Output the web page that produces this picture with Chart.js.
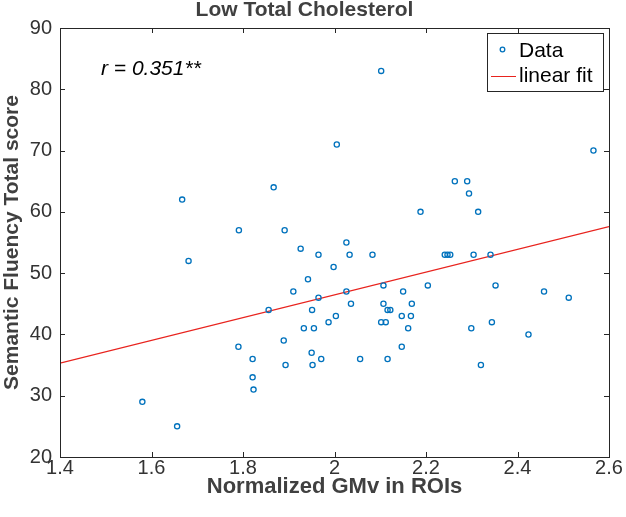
<!DOCTYPE html>
<html>
<head>
<meta charset="utf-8">
<title>Low Total Cholesterol</title>
<script src="https://cdn.jsdelivr.net/npm/chart.js@4"></script>
<style>
  html, body { margin: 0; padding: 0; background: #fff; }
</style>
</head>
<body>
<canvas id="chart" width="626" height="517"></canvas>
<script>
// values
const gmv = [1.580, 1.656, 1.667, 1.681, 1.791, 1.790, 1.821, 1.821, 1.823, 1.856,
             1.867, 1.889, 1.891, 1.893, 1.910, 1.926, 1.933, 1.942, 1.950, 1.951,
             1.952, 1.955, 1.965, 1.965, 1.971, 1.987, 1.998, 2.003, 2.005, 2.026,
             2.026, 2.033, 2.036, 2.056, 2.083, 2.102, 2.102, 2.107, 2.107, 2.112,
             2.116, 2.122, 2.116, 2.147, 2.147, 2.150, 2.161, 2.167, 2.169, 2.188,
             2.204, 2.241, 2.247, 2.253, 2.263, 2.290, 2.294, 2.299, 2.304, 2.314,
             2.320, 2.341, 2.344, 2.352, 2.424, 2.458, 2.512, 2.566];
const fluency = [29, 25, 62, 52, 57, 38, 36, 33, 31, 44,
                 64, 39, 57, 35, 47, 54, 41, 49, 37, 44,
                 35, 41, 53, 46, 36, 42, 51, 43, 71, 55,
                 47, 53, 45, 36, 53, 83, 42, 48, 45, 42,
                 44, 44, 36, 43, 38, 47, 41, 43, 45, 60,
                 48, 53, 53, 53, 65, 65, 63, 41, 53, 60,
                 35, 53, 42, 48, 40, 47, 46, 70];
const fitX = [1.4, 2.6];
const fitY = [35.3, 57.6];
const xTicks = [1.4, 1.6, 1.8, 2.0, 2.2, 2.4, 2.6];
const yTicks = [20, 30, 40, 50, 60, 70, 80, 90];
const rText = "r = 0.351**";

const FONT = "'Liberation Sans', Arial, Helvetica, sans-serif";
const BLUE = "#0072BD";
const RED = "#E8231E";

// box, inward ticks, r value and legend drawn like the matlab figure
const matlabFrame = {
    id: "matlabFrame",
    afterDraw(c) {
        const ctx = c.ctx;
        const a = c.chartArea;
        const sx = c.scales.x, sy = c.scales.y;
        ctx.save();
        ctx.strokeStyle = "#262626";
        ctx.lineWidth = 1;
        ctx.beginPath();
        sx.ticks.forEach(t => {
            const px = Math.round(sx.getPixelForValue(t.value)) + 0.5;
            ctx.moveTo(px, a.bottom); ctx.lineTo(px, a.bottom - 5);
            ctx.moveTo(px, a.top); ctx.lineTo(px, a.top + 5);
        });
        sy.ticks.forEach(t => {
            const py = Math.round(sy.getPixelForValue(t.value)) + 0.5;
            ctx.moveTo(a.left, py); ctx.lineTo(a.left + 5, py);
            ctx.moveTo(a.right, py); ctx.lineTo(a.right - 5, py);
        });
        ctx.stroke();
        ctx.strokeRect(Math.round(a.left) + 0.5, Math.round(a.top) + 0.5,
                       Math.round(a.right - a.left), Math.round(a.bottom - a.top));

        // correlation text
        ctx.fillStyle = "#000";
        ctx.font = "italic 21px " + FONT;
        ctx.textAlign = "left";
        ctx.textBaseline = "middle";
        ctx.fillText(rText, 101, 69);

        // legend box
        const lx = 487, ly = 33, lw = 116, lh = 58;
        ctx.fillStyle = "#fff";
        ctx.fillRect(lx, ly, lw, lh);
        ctx.strokeStyle = "#262626";
        ctx.strokeRect(lx + 0.5, ly + 0.5, lw, lh);
        const ds = c.data.datasets;
        ctx.font = "21px " + FONT;
        ctx.fillStyle = "#000";
        ctx.fillText(ds[0].label, 519, 51);
        ctx.fillText(ds[1].label, 519, 76);
        ctx.strokeStyle = BLUE;
        ctx.lineWidth = 1.3;
        ctx.beginPath();
        ctx.arc(502.5, 49.5, 2.3, 0, Math.PI * 2);
        ctx.stroke();
        ctx.strokeStyle = RED;
        ctx.lineWidth = 1;
        ctx.beginPath();
        ctx.moveTo(491, 76.5);
        ctx.lineTo(516, 76.5);
        ctx.stroke();
        ctx.restore();
    }
};

new Chart(document.getElementById("chart"), {
    type: "scatter",
    data: {
        datasets: [{
            label: "Data",
            data: gmv.map((g, i) => ({ x: g, y: fluency[i] })),
            pointStyle: "circle",
            pointRadius: 2.6,
            pointBorderWidth: 1.3,
            pointBorderColor: BLUE,
            pointBackgroundColor: "rgba(255,255,255,0)",
            showLine: false
        }, {
            label: "linear fit",
            type: "line",
            data: fitX.map((v, i) => ({ x: v, y: fitY[i] })),
            borderColor: RED,
            borderWidth: 1.2,
            pointRadius: 0,
            fill: false
        }]
    },
    options: {
        responsive: false,
        animation: false,
        events: [],
        layout: { padding: { left: 0, right: 17, top: 0, bottom: 0 } },
        plugins: {
            legend: { display: false },
            tooltip: { enabled: false },
            title: {
                display: true,
                text: "Low Total Cholesterol",
                color: "#404040",
                font: { family: FONT, size: 21, weight: "bold", lineHeight: 1 },
                padding: { top: 0, bottom: 7 }
            }
        },
        scales: {
            x: {
                type: "linear",
                min: 1.4,
                max: 2.6,
                afterBuildTicks: s => { s.ticks = xTicks.map(v => ({ value: v })); },
                afterFit: s => { s.height = 60; },
                grid: { display: false, drawTicks: false },
                border: { display: false },
                ticks: {
                    color: "#333",
                    padding: -1,
                    maxRotation: 0,
                    font: { family: FONT, size: 20 },
                    callback: v => String(+v.toFixed(1))
                },
                title: {
                    display: true,
                    text: "Normalized GMv in ROIs",
                    color: "#404040",
                    font: { family: FONT, size: 22, weight: "bold" },
                    padding: { top: 0, bottom: 17 }
                }
            },
            y: {
                type: "linear",
                min: 20,
                max: 90,
                afterBuildTicks: s => { s.ticks = yTicks.map(v => ({ value: v })); },
                afterFit: s => { s.width = 60; },
                grid: { display: false, drawTicks: false },
                border: { display: false },
                ticks: {
                    color: "#333",
                    padding: 8,
                    font: { family: FONT, size: 20 }
                },
                title: {
                    display: true,
                    text: "Semantic Fluency Total score",
                    color: "#404040",
                    font: { family: FONT, size: 21, weight: "bold" },
                    padding: { top: 0, bottom: 0 }
                }
            }
        }
    },
    plugins: [matlabFrame]
});
</script>
</body>
</html>
